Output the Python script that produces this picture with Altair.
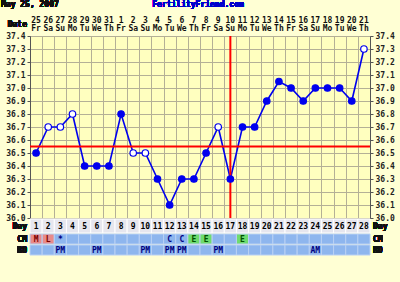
import altair as alt
import pandas as pd

# ---- data ----
days = list(range(1, 29))
dates = [25, 26, 27, 28, 29, 30, 31, 1, 2, 3, 4, 5, 6, 7, 8, 9, 10, 11, 12, 13, 14,
         15, 16, 17, 18, 19, 20, 21]
weekdays = ["Fr", "Sa", "Su", "Mo", "Tu", "We", "Th"] * 4
temps = [36.5, 36.7, 36.7, 36.8, 36.4, 36.4, 36.4, 36.8, 36.5, 36.5, 36.3, 36.1,
         36.3, 36.3, 36.5, 36.7, 36.3, 36.7, 36.7, 36.9, 37.05, 37.0, 36.9, 37.0,
         37.0, 37.0, 36.9, 37.3]
open_days = [2, 3, 4, 9, 10, 16, 28]
cm = ["M", "L", "*", "", "", "", "", "", "", "", "", "C", "C", "E", "E", "", "",
      "E", "", "", "", "", "", "", "", "", "", ""]
bd = ["", "", "PM", "", "", "PM", "", "", "", "PM", "", "PM", "PM", "", "", "PM",
      "", "", "", "", "", "", "", "AM", "", "", "", ""]
coverline = [36.55]
ovulation_day = [17]
y_ticks = [36.0, 36.1, 36.2, 36.3, 36.4, 36.5, 36.6, 36.7, 36.8, 36.9, 37.0, 37.1,
           37.2, 37.3, 37.4]
row_labels = ["Date", "Day", "CM", "BD"]
title_left = "May 25, 2007"
title_center = "FertilityFriend.com"

# ---- styling ----
FONT = "DejaVu Sans Mono"
BLUE = "#0000EE"
RED = "#FF0000"
GRID = "#B4B096"
CELL_BLUE = "#8EB6EE"

df = pd.DataFrame({"day": days, "date": dates, "wd": weekdays, "temp": temps,
                   "cm": cm, "bd": bd})
df["x0"] = df["day"] - 0.5
df["x1"] = df["day"] + 0.5
df["pfill"] = ["#FFFFFF" if d in open_days else BLUE for d in days]


def cm_fill(v):
    if v in ("M", "L"):
        return "#E88A8A"
    if v == "E":
        return "#6EDC6E"
    return CELL_BLUE


def cm_color(v):
    if v in ("M", "L"):
        return "#7A0000"
    if v == "E":
        return "#005000"
    return "#000080"


df["cmfill"] = [cm_fill(v) for v in cm]
df["cmcolor"] = [cm_color(v) for v in cm]

boundaries = [0.5 + i for i in range(29)]
x_scale = alt.Scale(domain=[0.5, 28.5], nice=False, zero=False)
x_axis = alt.Axis(values=boundaries, grid=True, gridColor=GRID, gridOpacity=1,
                  labels=False, ticks=False, domain=False, title=None)
y_scale = alt.Scale(domain=[36.0, 37.4], nice=False, zero=False)


def yaxis(orient, grid):
    return alt.Axis(values=y_ticks, format=".1f", orient=orient, grid=grid,
                    gridColor=GRID, gridOpacity=1, labelFont=FONT,
                    labelFontWeight="bold", labelFontSize=8, labelColor="#222222",
                    tickColor="#555555", tickSize=3, domainColor="#555555",
                    labelPadding=2, title=None)


X = alt.X("day:Q", scale=x_scale, axis=x_axis)
base = alt.Chart(df)

line = base.mark_line(color=BLUE, strokeWidth=1.6).encode(
    x=X, y=alt.Y("temp:Q", scale=y_scale, axis=yaxis("left", True)))

hline = alt.Chart(pd.DataFrame({"y": coverline})).mark_rule(
    color=RED, strokeWidth=2).encode(
    y=alt.Y("y:Q", scale=y_scale, axis=None))

vline = alt.Chart(pd.DataFrame({"x": ovulation_day})).mark_rule(
    color=RED, strokeWidth=2).encode(
    x=alt.X("x:Q", scale=x_scale, axis=x_axis))

points = base.mark_point(shape="circle", filled=True, size=42, stroke=BLUE,
                         strokeWidth=1.2, opacity=1).encode(
    x=X, y=alt.Y("temp:Q", scale=y_scale, axis=yaxis("right", False)),
    fill=alt.Fill("pfill:N", scale=None))

txt = dict(font=FONT, fontWeight="bold", fontSize=8, baseline="middle")

# header
date_txt = base.mark_text(color="#111111", **txt).encode(
    x=X, y=alt.value(-15), text="date:Q")
wd_txt = base.mark_text(color="#111111", **txt).encode(
    x=X, y=alt.value(-7), text="wd:N")
date_lbl = base.mark_text(color="#111111", align="right", **txt).encode(
    x=alt.value(-3), y=alt.value(-11), text=alt.value(row_labels[0]))
t_left = base.mark_text(color="#111111", align="left", **txt).encode(
    x=alt.value(-29), y=alt.value(-31), text=alt.value(title_left))
t_center = base.mark_text(color="#0000CC", align="center", **txt).encode(
    x=alt.value(168), y=alt.value(-31), text=alt.value(title_center))

# table rows
X0 = alt.X("x0:Q", scale=x_scale, axis=x_axis)
day_cells = base.mark_rect(fill="#E6E6EE", stroke="#FFFFFF", strokeWidth=1).encode(
    x=X0, x2="x1:Q", y=alt.value(183), y2=alt.value(197))
day_txt = base.mark_text(color="#000000", **txt).encode(
    x=X, y=alt.value(190.5), text="day:Q")
cm_cells = base.mark_rect(stroke="#B8D0F4", strokeWidth=1).encode(
    x=X0, x2="x1:Q", y=alt.value(198), y2=alt.value(208),
    fill=alt.Fill("cmfill:N", scale=None))
cm_txt = base.mark_text(**txt).encode(
    x=X, y=alt.value(203.5), text="cm:N", color=alt.Color("cmcolor:N", scale=None))
bd_cells = base.mark_rect(fill=CELL_BLUE, stroke="#B8D0F4", strokeWidth=1).encode(
    x=X0, x2="x1:Q", y=alt.value(209), y2=alt.value(219))
bd_txt = base.mark_text(color="#000080", **txt).encode(
    x=X, y=alt.value(214.5), text="bd:N")

row_layers = []
for lbl, yy in zip(row_labels[1:], [190.5, 203.5, 214.5]):
    row_layers.append(base.mark_text(color="#111111", align="right", **txt).encode(
        x=alt.value(-3), y=alt.value(yy), text=alt.value(lbl)))
    row_layers.append(base.mark_text(color="#111111", align="left", **txt).encode(
        x=alt.value(343), y=alt.value(yy), text=alt.value(lbl)))

chart = alt.layer(
    line, hline, vline, points,
    date_txt, wd_txt, date_lbl, t_left, t_center,
    day_cells, day_txt, cm_cells, cm_txt, bd_cells, bd_txt,
    *row_layers
).resolve_axis(y="independent").properties(
    width=340, height=182,
    padding={"left": 30, "top": 36, "right": 30, "bottom": 64},
    autosize=alt.AutoSizeParams(type="none"),
).configure(background="#FFFFD4").configure_view(fill="#FFFFBF", stroke="#8A8A70")

chart.save("out.html", embed_options={"renderer": "svg", "actions": False})
